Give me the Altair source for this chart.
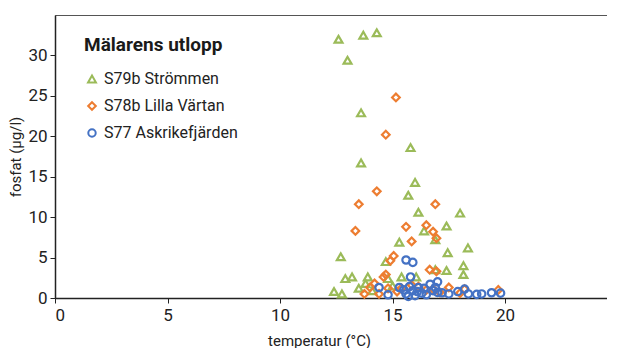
import altair as alt
import pandas as pd

series_names = ["S79b Strömmen", "S78b Lilla Värtan", "S77 Askrikefjärden"]
series_colors = ["#9BBB59", "#ED7D31", "#4472C4"]
series_shapes = ["triangle-up", "diamond", "circle"]
series_sizes = [62, 55, 80]

green_t = [12.6, 13.7, 14.3, 13.0, 13.6, 15.8, 13.6, 16.0, 15.7, 16.15, 18.0, 17.4, 16.4, 16.9,
           15.3, 18.35, 17.45, 12.7, 14.7, 18.15, 18.15, 17.4, 16.9, 15.4, 16.05, 14.8, 12.9, 13.2,
           13.9, 13.8, 13.5, 12.4, 12.75, 14.1, 15.0]
green_v = [32.0, 32.5, 32.8, 29.4, 22.9, 18.6, 16.7, 14.3, 12.7, 10.6, 10.5, 8.9, 8.3, 7.2,
           6.9, 6.2, 5.6, 5.1, 4.5, 4.0, 2.9, 3.4, 3.5, 2.6, 2.6, 2.4, 2.4, 2.6,
           2.6, 1.8, 1.2, 0.8, 0.5, 0.9, 1.5]

orange_t = [15.15, 14.7, 14.3, 13.5, 16.9, 13.35, 15.6, 16.5, 16.8, 16.95, 15.85, 15.05, 14.9,
            16.65, 16.95, 14.7, 14.6, 14.2, 14.0, 13.75, 14.4, 14.8, 15.4, 15.85, 16.15, 16.5,
            17.5, 18.2, 19.7, 15.2, 16.8, 17.1, 18.0]
orange_v = [24.8, 20.2, 13.2, 11.6, 11.6, 8.3, 8.8, 9.0, 8.2, 7.4, 7.0, 5.2, 4.6,
            3.5, 3.3, 2.9, 2.6, 1.8, 1.3, 0.5, 0.5, 1.2, 1.2, 1.6, 1.4, 1.0,
            1.3, 1.1, 1.0, 0.8, 1.1, 0.7, 0.6]

blue_t = [15.6, 15.9, 15.8, 14.4, 14.8, 15.3, 15.6, 15.7, 15.9, 16.0, 16.15, 16.3, 16.5, 16.67,
          16.8, 17.0, 17.0, 17.2, 17.5, 17.9, 18.2, 18.37, 18.74, 18.96, 19.4, 19.8, 15.5,
          15.75, 16.1, 16.4, 16.9]
blue_v = [4.7, 4.4, 2.6, 1.3, 0.4, 1.3, 0.5, 0.2, 0.9, 0.3, 1.3, 0.6, 0.4, 1.7,
          0.9, 2.0, 0.7, 0.65, 0.5, 0.8, 1.1, 0.5, 0.45, 0.5, 0.65, 0.6, 1.0,
          1.4, 0.8, 1.2, 1.3]

rows = []
for name, ts, vs in zip(series_names, [green_t, orange_t, blue_t], [green_v, orange_v, blue_v]):
    for t, v in zip(ts, vs):
        rows.append({"temperatur": t, "fosfat": v, "station": name})
df = pd.DataFrame(rows)

font = "Roboto"

chart = alt.Chart(df).mark_point(filled=False, strokeWidth=2.2, opacity=1).encode(
    x=alt.X("temperatur:Q",
            scale=alt.Scale(domain=[0, 24.53], nice=False),
            axis=alt.Axis(title="temperatur (°C)", values=[0, 5, 10, 15, 20], grid=False,
                          tickSize=5, labelPadding=4, titleX=264, titleAnchor="middle",
                          titlePadding=10)),
    y=alt.Y("fosfat:Q",
            scale=alt.Scale(domain=[0, 35], nice=False),
            axis=alt.Axis(title="fosfat (µg/l)", values=[0, 5, 10, 15, 20, 25, 30], grid=False,
                          tickSize=5, labelPadding=3, titlePadding=4)),
    color=alt.Color("station:N",
                    scale=alt.Scale(domain=series_names, range=series_colors),
                    legend=alt.Legend(title="Mälarens utlopp", orient="none", legendX=29, legendY=21,
                                      titleFontSize=19, titleFontWeight="bold", titleColor="#1a1a1a",
                                      titleFont=font, titlePadding=16,
                                      labelFontSize=16, labelFont=font, labelColor="#222",
                                      rowPadding=11, symbolStrokeWidth=2, symbolSize=55,
                                      labelOffset=4, padding=0)),
    shape=alt.Shape("station:N",
                    scale=alt.Scale(domain=series_names, range=series_shapes),
                    legend=None),
    size=alt.Size("station:N",
                  scale=alt.Scale(domain=series_names, range=series_sizes),
                  legend=None),
    order=alt.Order("idx:Q"),
).transform_calculate(
    idx="indexof(['S79b Strömmen','S78b Lilla Värtan','S77 Askrikefjärden'], datum.station)"
).properties(
    width=552, height=283,
    padding={"left": 0, "top": 7, "right": 0, "bottom": 0}
).configure_view(
    stroke="#555", strokeWidth=1
).configure_axis(
    domainColor="#222", tickColor="#222", labelColor="#222", titleColor="#222",
    labelFont=font, titleFont=font, labelFontSize=17, titleFontSize=15, titleFontWeight="normal",
    domainWidth=1.5
)

chart.save("out.html", embed_options={"renderer": "svg", "actions": False})
